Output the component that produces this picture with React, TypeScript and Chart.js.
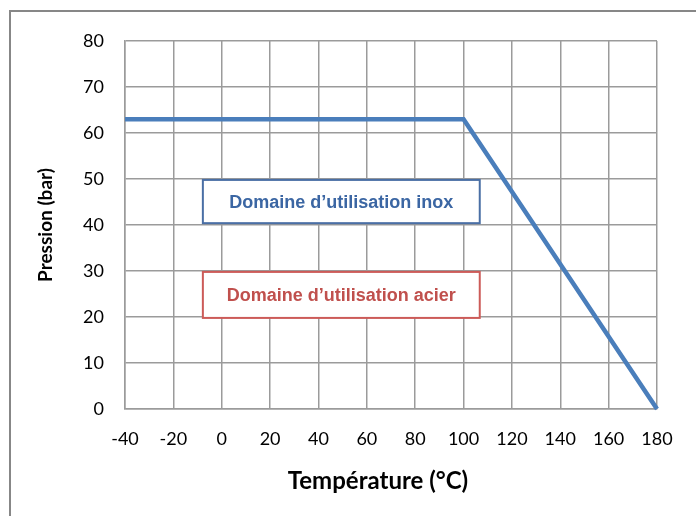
import React, { useEffect, useRef } from "react";
import { Chart, registerables } from "chart.js";

Chart.register(...registerables);

// ---- Data ----
const temperatures = [-40, 100, 180];
const pressures = [63, 63, 0];
const xTickValues = [-40, -20, 0, 20, 40, 60, 80, 100, 120, 140, 160, 180];
const yTickValues = [0, 10, 20, 30, 40, 50, 60, 70, 80];
const xTitle = "Température (°C)";
const yTitle = "Pression (bar)";
const zoneLabels = ["Domaine d’utilisation inox", "Domaine d’utilisation acier"];
const zoneXRange = [
  [-7.8, 106.7],
  [-7.8, 106.7],
];
const zoneYRange = [
  [40.4, 49.8],
  [19.8, 29.8],
];
const zoneTextColors = ["#3b66a3", "#c0504d"];
const zoneBorderColors = ["#4a6fa5", "#cc5b58"];

const GRID = "#9b9b9b";

const decorPlugin = {
  id: "decor",
  beforeDraw(chart: any) {
    const { ctx, width, height } = chart;
    ctx.save();
    ctx.fillStyle = "#ffffff";
    ctx.fillRect(0, 0, width, height);
    ctx.strokeStyle = "#878787";
    ctx.lineWidth = 2;
    ctx.strokeRect(10, 11, width + 20, height + 20);
    ctx.restore();
  },
  afterDraw(chart: any) {
    const { ctx } = chart;
    const xs = chart.scales.x;
    const ys = chart.scales.y;
    ctx.save();
    zoneLabels.forEach((label, i) => {
      const x0 = xs.getPixelForValue(zoneXRange[i][0]);
      const x1 = xs.getPixelForValue(zoneXRange[i][1]);
      const y0 = ys.getPixelForValue(zoneYRange[i][1]);
      const y1 = ys.getPixelForValue(zoneYRange[i][0]);
      ctx.fillStyle = "#ffffff";
      ctx.fillRect(x0, y0, x1 - x0, y1 - y0);
      ctx.strokeStyle = zoneBorderColors[i];
      ctx.lineWidth = 2;
      ctx.strokeRect(x0, y0, x1 - x0, y1 - y0);
      ctx.fillStyle = zoneTextColors[i];
      ctx.font = "bold 18px 'Liberation Sans Narrow', 'Arial Narrow', sans-serif";
      ctx.textAlign = "center";
      ctx.textBaseline = "middle";
      ctx.fillText(label, (x0 + x1) / 2, (y0 + y1) / 2 + 1);
    });
    // x axis title
    ctx.fillStyle = "#000000";
    ctx.font = "bold 24px Lato, 'Open Sans', sans-serif";
    ctx.textAlign = "center";
    ctx.textBaseline = "alphabetic";
    const area = chart.chartArea;
    ctx.fillText(xTitle, (area.left + area.right) / 2 - 13, 489);
    ctx.restore();
  },
};

export default function App() {
  const ref = useRef<HTMLCanvasElement | null>(null);
  useEffect(() => {
    if (!ref.current) return;
    const chart = new Chart(ref.current, {
      type: "line",
      data: {
        datasets: [
          {
            data: temperatures.map((t, i) => ({ x: t, y: pressures[i] })),
            borderColor: "#4a7ebb",
            borderWidth: 4.5,
            pointRadius: 0,
            tension: 0,
            clip: false as any,
          },
        ],
      },
      options: {
        animation: false,
        responsive: false,
        devicePixelRatio: 1,
        layout: { padding: { left: 0, top: 41, right: 39, bottom: 0 } },
        plugins: {
          legend: { display: false },
          tooltip: { enabled: false },
        },
        scales: {
          x: {
            type: "linear",
            min: -40,
            max: 180,
            afterBuildTicks: (scale: any) => {
              scale.ticks = xTickValues.map((v) => ({ value: v }));
            },
            afterFit: (scale: any) => {
              scale.height = 107;
            },
            grid: { color: GRID, lineWidth: 1.5, drawTicks: false },
            border: { color: GRID, width: 1.5 },
            ticks: {
              padding: 19,
              color: "#000000",
              font: { family: "Lato, 'Open Sans', sans-serif", size: 18 },
              maxRotation: 0,
              autoSkip: false,
            },
          },
          y: {
            type: "linear",
            min: 0,
            max: 80,
            afterBuildTicks: (scale: any) => {
              scale.ticks = yTickValues.map((v) => ({ value: v }));
            },
            afterFit: (scale: any) => {
              scale.width = 125;
            },
            grid: { color: GRID, lineWidth: 1.5, drawTicks: false },
            border: { color: GRID, width: 1.5 },
            ticks: {
              padding: 21,
              color: "#000000",
              font: { family: "Lato, 'Open Sans', sans-serif", size: 18 },
              autoSkip: false,
            },
            title: {
              display: true,
              text: yTitle,
              color: "#000000",
              font: { family: "Lato, 'Open Sans', sans-serif", size: 19, weight: "bold" },
              padding: { top: 34, bottom: 0 },
            },
          },
        },
      },
      plugins: [decorPlugin],
    });
    return () => chart.destroy();
  }, []);
  return (
    <div style={{ position: "absolute", left: 0, top: 0, width: 696, height: 516 }}>
      <canvas ref={ref} width={696} height={516} style={{ display: "block" }} />
    </div>
  );
}
